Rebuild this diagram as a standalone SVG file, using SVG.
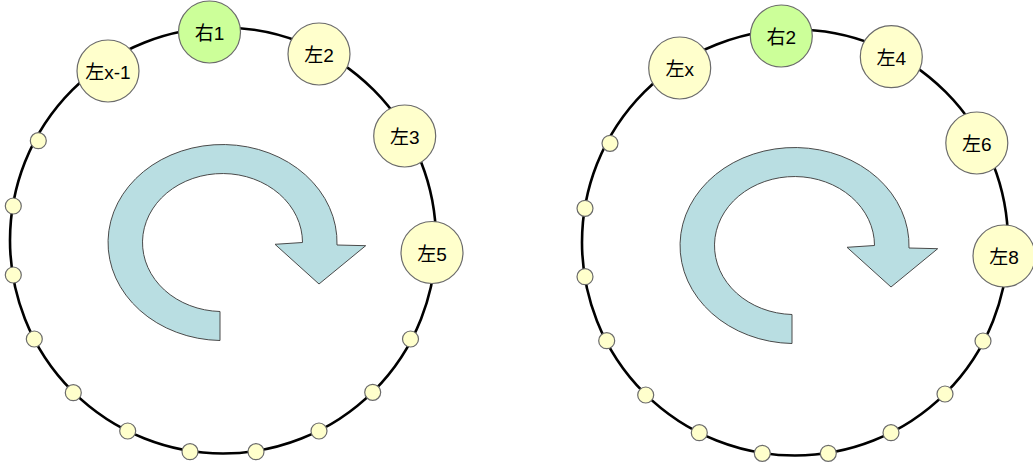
<svg xmlns="http://www.w3.org/2000/svg" width="1033" height="465" viewBox="0 0 1033 465">
<style>
.ring{fill:none;stroke:#000;stroke-width:2.6}
.arrow{fill:#b9dee2;stroke:#4a4a4a;stroke-width:1}
.node{fill:#ffffcc;stroke:#6b6b6b;stroke-width:1.2}
.hot{fill:#ccff99;stroke:#6b6b6b;stroke-width:1.2}
.dot{fill:#ffffcc;stroke:#6b6b6b;stroke-width:1.2}
.lbl{font-family:"Liberation Sans","Noto Sans CJK SC",sans-serif;font-size:19px;fill:#000;text-anchor:middle}
</style>
<defs>
<path id="turn" d="M 220 340.5 A 114.5 98 0 1 1 337 245 L 365.7 245.7 L 319 284 L 275 244.3 L 302.5 242.5 A 80 69 0 1 0 220 311.5 Z"/>
</defs>
<g id="connectors">
<circle class="ring" cx="223" cy="240.5" r="213"/>
<circle class="ring" cx="795" cy="242.5" r="213"/>
</g>
<g id="rotation-left"><use href="#turn" class="arrow"/></g>
<g id="rotation-right"><use href="#turn" class="arrow" transform="translate(572,3)"/></g>
<g id="dots-left">
<circle class="dot" cx="38.3" cy="140.7" r="8"/>
<circle class="dot" cx="13.3" cy="206" r="8"/>
<circle class="dot" cx="13.3" cy="275" r="8"/>
<circle class="dot" cx="34.3" cy="339" r="8"/>
<circle class="dot" cx="73.3" cy="392.7" r="8"/>
<circle class="dot" cx="127.7" cy="431" r="8"/>
<circle class="dot" cx="190" cy="451.7" r="8"/>
<circle class="dot" cx="256" cy="451.7" r="8"/>
<circle class="dot" cx="319" cy="431" r="8"/>
<circle class="dot" cx="372.7" cy="392.3" r="8"/>
<circle class="dot" cx="410.5" cy="339" r="8"/>
</g>
<g id="dots-right">
<circle class="dot" cx="610" cy="143.3" r="8"/>
<circle class="dot" cx="585" cy="208.3" r="8"/>
<circle class="dot" cx="585" cy="276.7" r="8"/>
<circle class="dot" cx="606.7" cy="340.7" r="8"/>
<circle class="dot" cx="645.7" cy="395" r="8"/>
<circle class="dot" cx="699.3" cy="432.7" r="8"/>
<circle class="dot" cx="762.3" cy="453.3" r="8"/>
<circle class="dot" cx="828.3" cy="453.3" r="8"/>
<circle class="dot" cx="891" cy="432.7" r="8"/>
<circle class="dot" cx="945" cy="394" r="8"/>
<circle class="dot" cx="983" cy="341" r="8"/>
</g>
<g id="n-left-x-1"><circle class="node" cx="108" cy="71" r="31"/><text class="lbl" x="108" y="79">左x-1</text></g>
<g id="n-right-1"><circle class="hot" cx="209.5" cy="32" r="31"/><text class="lbl" x="209.5" y="40">右1</text></g>
<g id="n-left-2"><circle class="node" cx="319" cy="54" r="31"/><text class="lbl" x="319" y="62">左2</text></g>
<g id="n-left-3"><circle class="node" cx="404.7" cy="136" r="31"/><text class="lbl" x="404.7" y="144">左3</text></g>
<g id="n-left-5"><circle class="node" cx="432" cy="252.5" r="31"/><text class="lbl" x="432" y="260.5">左5</text></g>
<g id="n-left-x"><circle class="node" cx="679.7" cy="68" r="31"/><text class="lbl" x="679.7" y="76">左x</text></g>
<g id="n-right-2"><circle class="hot" cx="781.3" cy="36" r="31"/><text class="lbl" x="781.3" y="44">右2</text></g>
<g id="n-left-4"><circle class="node" cx="891.3" cy="56.7" r="31"/><text class="lbl" x="891.3" y="64.7">左4</text></g>
<g id="n-left-6"><circle class="node" cx="976.8" cy="143" r="31"/><text class="lbl" x="976.8" y="151">左6</text></g>
<g id="n-left-8"><circle class="node" cx="1004" cy="256" r="31"/><text class="lbl" x="1004" y="264">左8</text></g>
</svg>
